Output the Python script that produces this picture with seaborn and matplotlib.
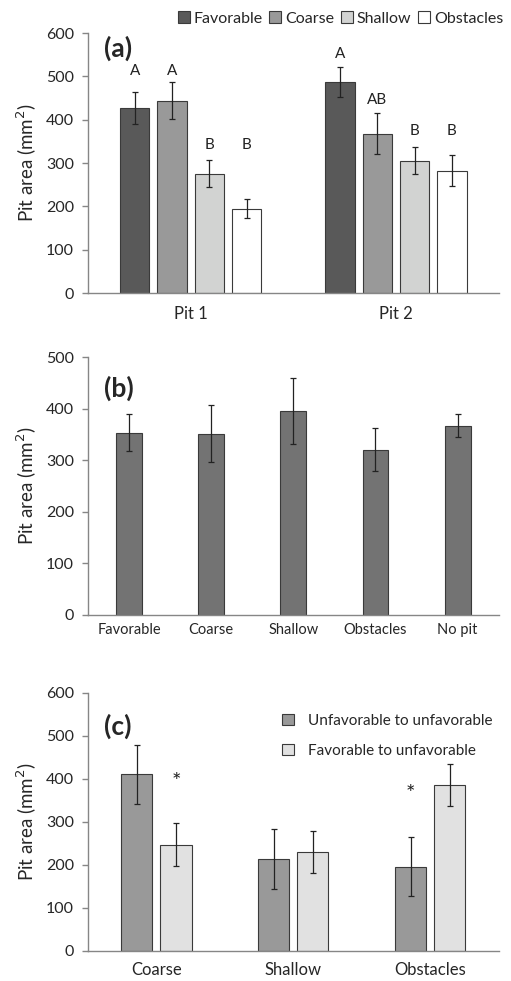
import numpy as np
import pandas as pd
import seaborn as sns
import matplotlib.pyplot as plt
from matplotlib.patches import Patch

# panel (a): pit area by substrate, first and second pit
pits = ["Pit 1", "Pit 2"]
substrates = ["Favorable", "Coarse", "Shallow", "Obstacles"]
a_mean = {"Favorable": [426, 487], "Coarse": [444, 368],
          "Shallow": [275, 305], "Obstacles": [195, 282]}
a_err = {"Favorable": [37, 34], "Coarse": [43, 48],
         "Shallow": [31, 31], "Obstacles": [21, 36]}
a_letters = {"Favorable": ["A", "A"], "Coarse": ["A", "AB"],
             "Shallow": ["B", "B"], "Obstacles": ["B", "B"]}
# height where each letter sits
a_letter_y = {"Favorable": [513, 552], "Coarse": [513, 446],
              "Shallow": [341, 375], "Obstacles": [341, 375]}
a_colors = ["#595959", "#999999", "#d2d3d2", "#ffffff"]

# panel (b)
b_cats = ["Favorable", "Coarse", "Shallow", "Obstacles", "No pit"]
b_mean = [354, 352, 395, 321, 367]
b_err = [35, 55, 64, 42, 22]

# panel (c)
c_cats = ["Coarse", "Shallow", "Obstacles"]
c_groups = ["Unfavorable to unfavorable", "Favorable to unfavorable"]
c_mean = {"Unfavorable to unfavorable": [410, 214, 196],
          "Favorable to unfavorable": [247, 229, 385]}
c_err = {"Unfavorable to unfavorable": [68, 69, 68],
         "Favorable to unfavorable": [50, 49, 49]}
c_stars = [("Favorable to unfavorable", "Coarse", 392),
           ("Unfavorable to unfavorable", "Obstacles", 365)]
c_colors = ["#999999", "#e1e1e1"]

sns.set_style("white")
plt.rcParams["font.family"] = ["Lato", "DejaVu Sans"]

edge = "#3a3a3a"
spine_col = "#868686"

fig = plt.figure(figsize=(5.11, 9.81), dpi=100)
ax_a = fig.add_axes([0.172, 0.7013, 0.804, 0.265])
ax_b = fig.add_axes([0.172, 0.3731, 0.804, 0.2627])
ax_c = fig.add_axes([0.172, 0.0306, 0.804, 0.2633])


def style_axis(ax, ymax, step):
    sns.despine(ax=ax)
    for s in ["left", "bottom"]:
        ax.spines[s].set_color(spine_col)
        ax.spines[s].set_linewidth(1.0)
    ax.set_ylim(0, ymax)
    ax.set_yticks(np.arange(0, ymax + 1, step))
    ax.tick_params(axis="y", direction="out", length=4, width=1,
                   color=spine_col, labelsize=11.5, pad=6, left=True)
    ax.tick_params(axis="x", length=0, labelsize=12, pad=9)
    ax.set_xlabel("")
    ax.set_ylabel("Pit area (mm$^2$)", fontsize=13.5, labelpad=5)


def add_errors(ax, err_lists):
    # containers come one per hue level, bars in category order
    for cont, errs in zip(ax.containers, err_lists):
        for bar, e in zip(cont, errs):
            xc = bar.get_x() + bar.get_width() / 2
            ax.errorbar(xc, bar.get_height(), yerr=e, fmt="none",
                        ecolor="#222222", elinewidth=0.9, capsize=2.5,
                        capthick=0.9, zorder=5)


# ---- (a)
df_a = pd.DataFrame([(p, s, a_mean[s][i]) for s in substrates
                     for i, p in enumerate(pits)],
                    columns=["pit", "substrate", "area"])
sns.barplot(data=df_a, x="pit", y="area", hue="substrate",
            hue_order=substrates, order=pits, palette=a_colors,
            width=0.726, gap=0.21, errorbar=None, edgecolor=edge,
            linewidth=0.8, legend=False, ax=ax_a)
add_errors(ax_a, [a_err[s] for s in substrates])
for cont, s in zip(ax_a.containers, substrates):
    for bar, lab, yl in zip(cont, a_letters[s], a_letter_y[s]):
        xc = bar.get_x() + bar.get_width() / 2
        ax_a.text(xc, yl, lab, ha="center", va="center", fontsize=11,
                  color="#222222")
ax_a.set_xlim(-0.5, 1.5)
style_axis(ax_a, 600, 100)
ax_a.text(0.04, 0.99, "(a)", transform=ax_a.transAxes, fontsize=19,
          fontweight="bold", va="top", ha="left")
leg_a = [Patch(facecolor=c, edgecolor=edge, linewidth=0.8, label=s)
         for c, s in zip(a_colors, substrates)]
fig.legend(handles=leg_a, loc="center right", bbox_to_anchor=(1.0, 0.981),
           ncol=4, frameon=False, fontsize=11.5, handlelength=0.75,
           handleheight=0.75, handletextpad=0.25, columnspacing=0.4,
           borderaxespad=0.1)

# ---- (b)
df_b = pd.DataFrame({"cat": b_cats, "area": b_mean})
sns.barplot(data=df_b, x="cat", y="area", order=b_cats, color="#737373",
            saturation=1, width=0.316, errorbar=None, edgecolor=edge,
            linewidth=0.8, ax=ax_b)
for bar, e in zip(ax_b.containers[0], b_err):
    xc = bar.get_x() + bar.get_width() / 2
    ax_b.errorbar(xc, bar.get_height(), yerr=e, fmt="none",
                  ecolor="#222222", elinewidth=0.9, capsize=2.5,
                  capthick=0.9, zorder=5)
ax_b.set_xlim(-0.5, 4.5)
style_axis(ax_b, 500, 100)
ax_b.tick_params(axis="x", labelsize=10.5, pad=6)
ax_b.text(0.04, 0.93, "(b)", transform=ax_b.transAxes, fontsize=19,
          fontweight="bold", va="top", ha="left")

# ---- (c)
df_c = pd.DataFrame([(c, g, c_mean[g][i]) for g in c_groups
                     for i, c in enumerate(c_cats)],
                    columns=["cat", "group", "area"])
sns.barplot(data=df_c, x="cat", y="area", hue="group", hue_order=c_groups,
            order=c_cats, palette=c_colors, saturation=1, width=0.574,
            gap=0.21, errorbar=None, edgecolor=edge, linewidth=0.8,
            legend=False, ax=ax_c)
add_errors(ax_c, [c_err[g] for g in c_groups])
for g, cat, yv in c_stars:
    cont = ax_c.containers[c_groups.index(g)]
    bar = cont[c_cats.index(cat)]
    xc = bar.get_x() + bar.get_width() / 2
    ax_c.text(xc, yv, "*", ha="center", va="center", fontsize=16,
              color="#222222")
ax_c.set_xlim(-0.5, 2.5)
style_axis(ax_c, 600, 100)
ax_c.tick_params(axis="x", labelsize=12, pad=8)
ax_c.text(0.04, 0.92, "(c)", transform=ax_c.transAxes, fontsize=19,
          fontweight="bold", va="top", ha="left")
leg_c = [Patch(facecolor=c, edgecolor=edge, linewidth=0.8, label=g)
         for c, g in zip(c_colors, c_groups)]
ax_c.legend(handles=leg_c, loc="upper left", bbox_to_anchor=(0.44, 0.97),
            frameon=False, fontsize=11, handlelength=0.75, handleheight=0.75,
            handletextpad=0.9, labelspacing=1.05)

fig.savefig("out.png", dpi=100)
